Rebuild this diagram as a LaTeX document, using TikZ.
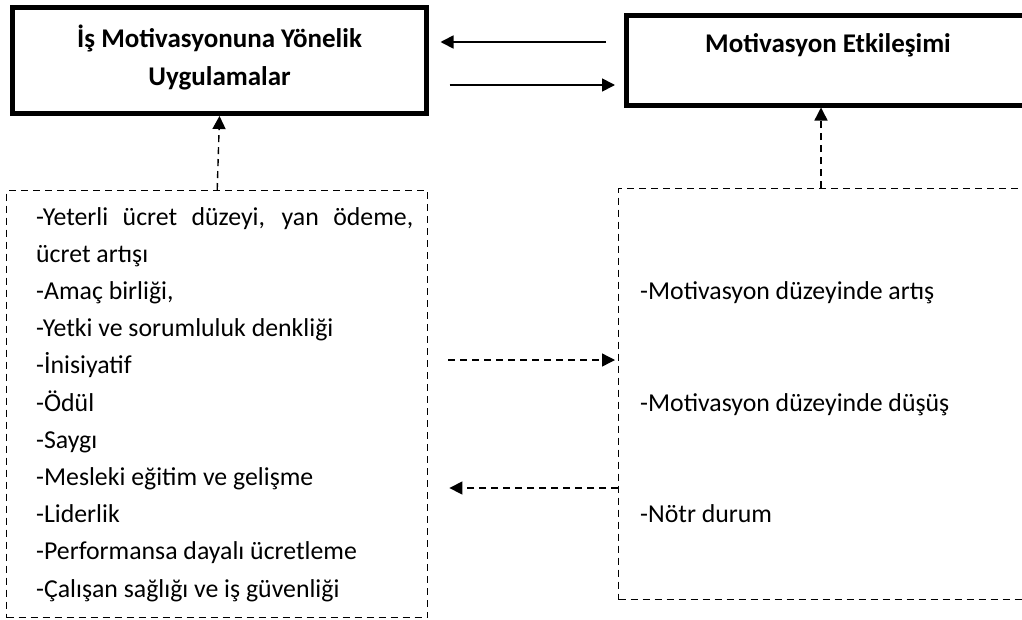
\documentclass[tikz,border=0pt]{standalone}
\usepackage{fontspec}
\setmainfont{Carlito}
\usetikzlibrary{arrows.meta}
\tikzset{
  kutu/.style={draw,line width=5pt,inner sep=0pt},
  liste/.style={draw,line width=1.4pt,dash pattern=on 7pt off 5pt,inner sep=0pt},
  ok/.style={-{Triangle[length=13pt,width=13pt]},line width=1.7pt},
  kesik/.style={-{Triangle[length=13pt,width=13pt]},line width=1.4pt,dash pattern=on 7pt off 5pt},
  yazi/.style={inner sep=0pt,font=\fontsize{25.8}{37.2}\selectfont},
  baslik/.style={inner sep=0pt,font=\fontsize{27}{38}\selectfont\bfseries},
}
\begin{document}
\begin{tikzpicture}[x=1pt,y=-1pt]
  \useasboundingbox (0,0) rectangle (1022,619);
  \clip (0,0) rectangle (1022,619);
  % ust kutular
  \node[kutu,minimum width=414pt,minimum height=106pt] (U) at (219.5,60.5) {};
  \node[baslik,anchor=base] (Ub1) at (219.5,47) {İş Motivasyonuna Yönelik};
  \node[baslik,anchor=base] (Ub2) at (219.5,85) {Uygulamalar};
  \node[kutu,minimum width=450pt,minimum height=90pt,anchor=north west] (E) at (623.5,12.5) {};
  \node[baslik,anchor=base] (Eb) at (828,52) {Motivasyon Etkileşimi};
  % kesikli kutular
  \node[liste,minimum width=421pt,minimum height=427pt,anchor=north west] (L) at (6,190) {};
  \node[liste,minimum width=450pt,minimum height=411pt,anchor=north west] (R) at (618,188) {};
  \foreach \i/\t in {0/{\makebox[377pt][s]{-Yeterli ücret düzeyi, yan ödeme,}}, 1/ücret artışı,
      2/{-Amaç birliği,}, 3/-Yetki ve sorumluluk denkliği, 4/-İnisiyatif, 5/-Ödül, 6/-Saygı,
      7/-Mesleki eğitim ve gelişme, 8/-Liderlik, 9/-Performansa dayalı ücretleme,
      10/-Çalışan sağlığı ve iş güvenliği}{
    \node[yazi,anchor=base west] (L\i) at (36,{225+37.2*\i}) {\t};
  }
  \foreach \i/\t in {0/-Motivasyon düzeyinde artış, 1/-Motivasyon düzeyinde düşüş, 2/-Nötr durum}{
    \node[yazi,anchor=base west] (R\i) at (640,{299.4+111.6*\i}) {\t};
  }
  % oklar
  \draw[ok,shorten <=17.5pt,shorten >=11.5pt] (E.west |- 0,42) -- (U.east |- 0,42);
  \draw[ok,shorten <=20.5pt,shorten >=8.5pt] (U.east |- 0,85) -- (E.west |- 0,85);
  \draw[kesik] (L.north) -- (U.south);
  \draw[kesik] (821,0 |- R.north) -- (821,0 |- E.south);
  \draw[kesik,shorten <=20pt,shorten >=3pt] (L.east |- 0,360) -- (R.west |- 0,360);
  \draw[kesik,shorten >=21pt] (R.west |- 0,488) -- (L.east |- 0,488);
\end{tikzpicture}
\end{document}
